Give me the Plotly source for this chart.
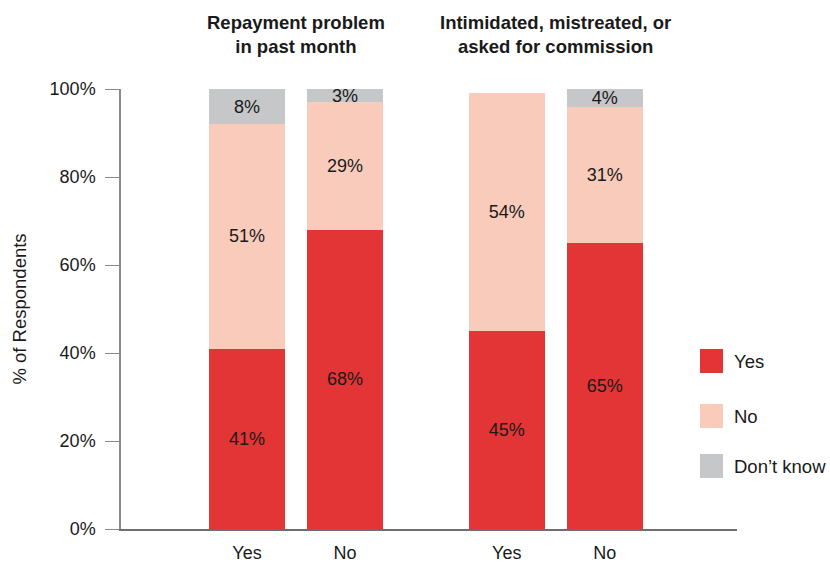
import plotly.graph_objects as go

groups = ["Repayment problem<br>in past month", "Intimidated, mistreated, or<br>asked for commission"]
answers = ["Yes", "No"]
series = ["Yes", "No", "Don\u2019t know"]
yes_vals = [41, 68, 45, 65]
no_vals = [51, 29, 54, 31]
dk_vals = [8, 3, 0, 4]
colors = ["#E33535", "#F8CBBB", "#C6C7C9"]

GROUP_GAP = 2.65
xpos = []
xlabels = []
for gi, g in enumerate(groups):
    for ai, a in enumerate(answers):
        xpos.append(gi * GROUP_GAP + ai)
        xlabels.append(a)

FONT = "Liberation Sans, Arial, sans-serif"
TXT = "#1a1a1a"
fig = go.Figure()
for name, vals, col in zip(series, [yes_vals, no_vals, dk_vals], colors):
    fig.add_trace(go.Bar(
        x=xpos, y=vals, name=name, marker=dict(color=col, line=dict(width=0)),
        width=0.776,
        text=[f"{v}%" if v > 0 else "" for v in vals],
        textposition="inside", insidetextanchor="middle", textangle=0,
        textfont=dict(size=18, color=TXT, family=FONT),
        constraintext="none", cliponaxis=False, showlegend=False,
    ))

fig.update_layout(
    barmode="stack", width=830, height=562,
    margin=dict(l=121, r=93, t=89, b=33),
    plot_bgcolor="white", paper_bgcolor="white",
    font=dict(family=FONT, size=18, color=TXT),
    uniformtext=dict(mode=False),
)
fig.update_xaxes(
    range=[-1.286, 5.0], tickvals=xpos, ticktext=xlabels,
    showline=True, linecolor="#6e6e6e", linewidth=1.5, ticks="",
    showgrid=False, zeroline=False, ticklabelstandoff=7, automargin=False,
    tickfont=dict(size=18, color=TXT),
)
fig.update_yaxes(
    range=[0, 100], tickvals=[0, 20, 40, 60, 80, 100],
    ticktext=["0%", "20%", "40%", "60%", "80%", "100%"],
    showline=True, linecolor="#8a8a8a", linewidth=1.5,
    ticks="outside", ticklen=14, tickcolor="#8a8a8a", tickwidth=1.2,
    showgrid=False, zeroline=False, ticklabelstandoff=6, automargin=False,
    tickfont=dict(size=18, color=TXT),
    title=dict(text="% of Respondents", font=dict(size=18.5, color=TXT), standoff=18),
)

# group titles
for gi, g in enumerate(groups):
    cx = gi * GROUP_GAP + 0.5
    fig.add_annotation(x=cx, xref="x", y=(529 - 34) / 440, yref="paper",
                       text=f"<b>{g}</b>", showarrow=False,
                       font=dict(size=18.5, color=TXT), align="center",
                       xanchor="center", yanchor="middle")

# manual legend
ycent = [361, 416, 466]
for name, col, yc in zip(series, colors, ycent):
    y0 = (529 - (yc + 12)) / 440
    y1 = (529 - (yc - 12)) / 440
    fig.add_shape(type="rect", xref="paper", yref="paper",
                  x0=(700 - 121) / 616, x1=(723 - 121) / 616, y0=y0, y1=y1,
                  fillcolor=col, line=dict(width=0))
    fig.add_annotation(x=(732 - 121) / 616, xref="paper", y=(529 - yc) / 440, yref="paper",
                       text=name, showarrow=False, xanchor="left", yanchor="middle",
                       font=dict(size=18.5, color=TXT))

fig.write_html("out.html")
